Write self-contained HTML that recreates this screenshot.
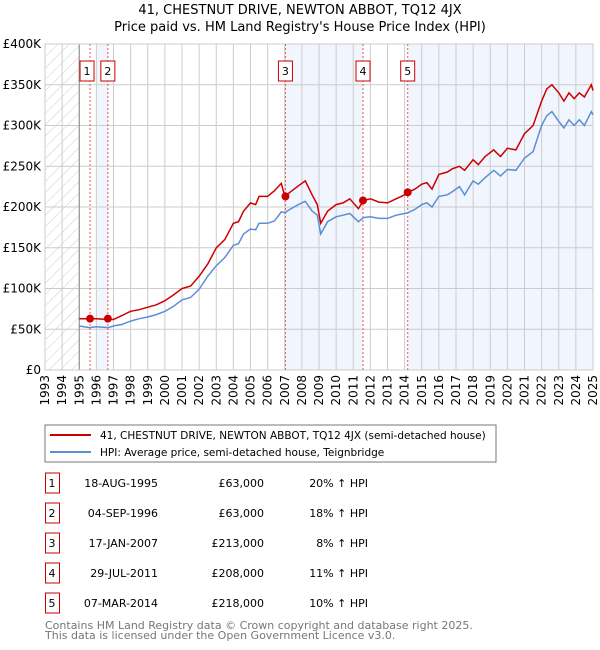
<!DOCTYPE html>
<html><head><meta charset="utf-8"><style>
body{margin:0;background:#fff;width:600px;height:650px;overflow:hidden;font-family:"DejaVu Sans","Liberation Sans",sans-serif}
svg{position:absolute;left:0;top:0}
text{font-family:"DejaVu Sans","Liberation Sans",sans-serif}
</style></head><body>
<svg id="c" width="600" height="650">
<defs><pattern id="hatch" width="8" height="8" patternUnits="userSpaceOnUse" patternTransform="rotate(45)"><line x1="0" y1="0" x2="0" y2="8" stroke="#ccc" stroke-width="1"/></pattern></defs>
<text x="300" y="14" text-anchor="middle" font-size="13">41, CHESTNUT DRIVE, NEWTON ABBOT, TQ12 4JX</text>
<text x="300" y="31" text-anchor="middle" font-size="13">Price paid vs. HM Land Registry's House Price Index (HPI)</text>
<g id="plot"></g>
<rect x="45" y="425" width="451" height="37" fill="#fff" stroke="#777"/>
<line x1="50" y1="435" x2="91" y2="435" stroke="#cc0000" stroke-width="2"/>
<text x="100" y="439" font-size="10.5">41, CHESTNUT DRIVE, NEWTON ABBOT, TQ12 4JX (semi-detached house)</text>
<line x1="50" y1="452" x2="91" y2="452" stroke="#5b8fd4" stroke-width="2"/>
<text x="100" y="456" font-size="10.5">HPI: Average price, semi-detached house, Teignbridge</text>
<g id="table"></g>
<text x="45" y="629" font-size="11" fill="#777">Contains HM Land Registry data © Crown copyright and database right 2025.</text>
<text x="45" y="639" font-size="11" fill="#777">This data is licensed under the Open Government Licence v3.0.</text>
</svg>
<script>
const yTicks=[0,50,100,150,200,250,300,350,400];
const yTickLabels=["£0","£50K","£100K","£150K","£200K","£250K","£300K","£350K","£400K"];
const xYears=[1993,1994,1995,1996,1997,1998,1999,2000,2001,2002,2003,2004,2005,2006,2007,2008,2009,2010,2011,2012,2013,2014,2015,2016,2017,2018,2019,2020,2021,2022,2023,2024,2025];
const redT=[1995,1995.6,1996,1996.7,1997,1997.5,1998,1998.5,1999,1999.5,2000,2000.5,2001,2001.5,2002,2002.5,2003,2003.5,2004,2004.3,2004.6,2005,2005.3,2005.5,2006,2006.4,2006.8,2007,2007.3,2007.8,2008.2,2008.6,2008.9,2009.1,2009.5,2010,2010.4,2010.8,2011.3,2011.6,2012,2012.5,2013,2013.5,2014,2014.2,2014.6,2015,2015.3,2015.6,2016,2016.5,2016.8,2017.2,2017.5,2018,2018.3,2018.7,2019.2,2019.6,2020,2020.5,2021,2021.5,2022,2022.3,2022.6,2023,2023.3,2023.6,2023.9,2024.2,2024.5,2024.9,2025];
const redV=[63,63,63,62,62,67,72,74,77,80,85,92,100,103,115,130,150,160,180,182,195,205,203,213,213,220,229,213,218,226,232,215,203,180,195,203,205,210,198,208,210,206,205,210,215,218,222,228,230,222,240,243,247,250,245,258,252,262,270,262,272,270,290,300,330,345,350,340,330,340,333,340,335,350,343];
const blueT=[1995,1995.6,1996,1996.7,1997,1997.5,1998,1998.5,1999,1999.5,2000,2000.5,2001,2001.5,2002,2002.5,2003,2003.5,2004,2004.3,2004.6,2005,2005.3,2005.5,2006,2006.4,2006.8,2007,2007.3,2007.8,2008.2,2008.6,2008.9,2009.1,2009.5,2010,2010.4,2010.8,2011.3,2011.6,2012,2012.5,2013,2013.5,2014,2014.2,2014.6,2015,2015.3,2015.6,2016,2016.5,2016.8,2017.2,2017.5,2018,2018.3,2018.7,2019.2,2019.6,2020,2020.5,2021,2021.5,2022,2022.3,2022.6,2023,2023.3,2023.6,2023.9,2024.2,2024.5,2024.9,2025];
const blueV=[54,52,53,52,54,56,60,63,65,68,72,78,86,89,99,115,128,138,153,155,167,173,172,180,180,183,194,193,197,203,207,195,190,167,182,188,190,192,182,187,188,186,186,190,192,193,197,203,205,200,213,215,219,225,215,232,228,236,245,238,246,245,260,268,300,312,317,305,297,307,300,307,300,317,313];
const saleT=[1995.63,1996.67,2007.04,2011.57,2014.18];
const saleV=[63,63,213,208,218];
const saleLabels=["1","2","3","4","5"];
const saleDates=["18-AUG-1995","04-SEP-1996","17-JAN-2007","29-JUL-2011","07-MAR-2014"];
const salePrices=["£63,000","£63,000","£213,000","£208,000","£218,000"];
const saleHpi=["20% ↑ HPI","18% ↑ HPI","8% ↑ HPI","11% ↑ HPI","10% ↑ HPI"];

const X0=45,X1=593,Y0=370,Y1=44;
const xs=t=>X0+(t-1993)/(2025-1993)*(X1-X0);
const ys=v=>Y0-v/400*(Y0-Y1);
const NS="http://www.w3.org/2000/svg";
const plot=document.getElementById('plot');
function mk(tag,at,parent){const e=document.createElementNS(NS,tag);for(const k in at)e.setAttribute(k,at[k]);(parent||plot).appendChild(e);return e;}

mk('rect',{x:X0,y:Y1,width:X1-X0,height:Y0-Y1,fill:'#fff'});
let e=mk('rect',{x:xs(1993),y:Y1,width:xs(1995)-xs(1993),height:Y0-Y1,fill:'url(#hatch)'});


const shades=[[1996,saleT[1]],[saleT[2],saleT[3]],[saleT[4],2025]];
shades.forEach(s=>{const r=mk('rect',{x:xs(s[0]),y:Y1,width:xs(s[1])-xs(s[0]),height:Y0-Y1,fill:'#eef3fd',opacity:0.8});

});
yTicks.forEach((v,i)=>{const l=mk('line',{x1:X0,x2:X1,y1:ys(v),y2:ys(v),stroke:'#ccc'});


const t=mk('text',{x:X0-4,y:ys(v)+4,'text-anchor':'end','font-size':12});t.textContent=yTickLabels[i];

});
xYears.forEach(y=>{const l=mk('line',{x1:xs(y),x2:xs(y),y1:Y1,y2:Y0,stroke:'#ccc'});


const t=mk('text',{x:0,y:0,'text-anchor':'end','font-size':12,transform:`translate(${xs(y)+4},${Y0+5}) rotate(-90)`});t.textContent=y;

});
mk('line',{x1:xs(1995),x2:xs(1995),y1:Y1,y2:Y0,stroke:'#888'});
mk('rect',{x:X0,y:Y1,width:X1-X0,height:Y0-Y1,fill:'none',stroke:'#ccc'});
saleT.forEach((t,i)=>{const l=mk('line',{x1:xs(t),x2:xs(t),y1:Y1,y2:Y0,stroke:'#e55','stroke-dasharray':'2,2'});


const b=mk('rect',{x:xs(t)-7-(i==0?3:0),y:61,width:14,height:20,fill:'#fff',stroke:'#cc0000'});


const tx=mk('text',{x:xs(t)-(i==0?3:0),y:75,'text-anchor':'middle','font-size':11});tx.textContent=saleLabels[i];

});
const pts=(T,V)=>T.map((t,i)=>xs(t).toFixed(1)+','+ys(V[i]).toFixed(1)).join(' ');
const bl=mk('polyline',{points:pts(blueT,blueV),fill:'none',stroke:'#5b8fd4','stroke-width':1.5});


const rl=mk('polyline',{points:pts(redT,redV),fill:'none',stroke:'#cc0000','stroke-width':1.5});


saleT.forEach((t,i)=>{const c=mk('circle',{cx:xs(t),cy:ys(saleV[i]),r:4,fill:'#cc0000'});

});

const tb=document.getElementById('table');
saleT.forEach((t,i)=>{const cy=483+i*30;
const b=mk('rect',{x:45.5,y:cy-10,width:14,height:20,fill:'#fff',stroke:'#cc0000'},tb);


const cells=[[52,'middle',saleLabels[i]],[158,'end',saleDates[i]],[264,'end',salePrices[i]],[368,'end',saleHpi[i]]];
cells.forEach((c,j)=>{const tx=mk('text',{x:c[0],y:cy+4,'text-anchor':c[1],'font-size':11},tb);tx.textContent=c[2];

});});
</script>
</body></html>
